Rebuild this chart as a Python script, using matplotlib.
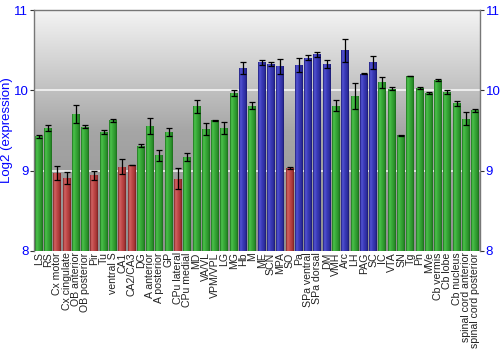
import matplotlib
matplotlib.use('Agg')
import matplotlib.pyplot as plt
import numpy as np
from matplotlib.colors import LinearSegmentedColormap

plt.rcParams['font.family'] = ['Liberation Sans', 'DejaVu Sans']

regions = ['LS', 'RS', 'Cx motor', 'Cx cingulate', 'OB anterior', 'OB posterior', 'Pir', 'Tu',
           'ventral S', 'CA1', 'CA2/CA3', 'DG', 'A anterior', 'A posterior', 'GP', 'CPu lateral',
           'CPu medial', 'MD', 'VA/VL', 'VPM/VPL', 'LG', 'MG', 'Hb', 'M', 'ME', 'SCN', 'MPA', 'SO',
           'Pa', 'SPa ventral', 'SPa dorsal', 'DM', 'VMH', 'Arc', 'LH', 'PAG', 'SC', 'IC', 'VTA',
           'SN', 'Tg', 'Pn', 'MVe', 'Cb vermis', 'Cb lobe', 'Cb nucleus', 'spinal cord anterior',
           'spinal cord posterior']
expr = [9.43, 9.53, 8.97, 8.91, 9.71, 9.55, 8.94, 9.48,
        9.63, 9.05, 9.07, 9.31, 9.56, 9.19, 9.48, 8.90,
        9.17, 9.80, 9.52, 9.63, 9.53, 9.97, 10.28, 9.81, 10.35, 10.33, 10.30, 9.03,
        10.32, 10.41, 10.45, 10.33, 9.81, 10.50, 9.93, 10.21, 10.35, 10.10, 10.02,
        9.44, 10.18, 10.03, 9.97, 10.13, 9.98, 9.84, 9.65,
        9.75]
err = [0.02, 0.035, 0.085, 0.077, 0.11, 0.015, 0.06, 0.027,
       0.02, 0.09, 0.005, 0.02, 0.1, 0.07, 0.05, 0.13,
       0.045, 0.08, 0.08, 0.005, 0.077, 0.04, 0.073, 0.04, 0.033, 0.03, 0.09, 0.01,
       0.088, 0.033, 0.03, 0.045, 0.065, 0.14, 0.16, 0.005, 0.083, 0.07, 0.02,
       0.01, 0.005, 0.017, 0.015, 0.017, 0.03, 0.033, 0.083,
       0.02]
group = ['g', 'g', 'r', 'r', 'g', 'g', 'r', 'g',
         'g', 'r', 'r', 'g', 'g', 'g', 'g', 'r',
         'g', 'g', 'g', 'g', 'g', 'g', 'b', 'g', 'b', 'b', 'b', 'r',
         'b', 'b', 'b', 'b', 'g', 'b', 'g', 'b', 'b', 'g', 'g',
         'g', 'g', 'g', 'g', 'g', 'g', 'g', 'g',
         'g']

# shading across each bar: dark edge, highlight, body, dark edge
shades = {
    'g': ['#1d6e1d', '#4cc44c', '#38a838', '#2a922a', '#1c6a1c'],
    'r': ['#7e2424', '#d26464', '#c04848', '#a83838', '#7a2020'],
    'b': ['#1c1c78', '#5454d4', '#3a3ab8', '#2e2ea0', '#1a1a70'],
}
cmaps = {k: LinearSegmentedColormap.from_list(k, list(zip([0, 0.2, 0.5, 0.8, 1], v)))
         for k, v in shades.items()}

fig = plt.figure(figsize=(5, 3.5), dpi=100)
ax = fig.add_axes([0.068, 0.283, 0.892, 0.688])

x = np.arange(len(regions))
ax.set_xlim(-0.5, len(regions) - 0.5)
ax.set_ylim(8, 11)

# vertical grey gradient behind the plot, light at the top
bg = LinearSegmentedColormap.from_list('bg', ['#f4f4f4', '#a6a6a6', '#8e8e8e'])
ax.imshow(np.linspace(0, 1, 256).reshape(-1, 1), cmap=bg, aspect='auto', origin='upper',
          extent=[-0.5, len(regions) - 0.5, 8, 11], zorder=0)
for yv in [9, 10]:
    ax.axhline(yv, color='white', lw=1.2, alpha=0.85, zorder=1)

bars = ax.bar(x, np.array(expr) - 8, bottom=8, width=0.86, color='none', zorder=2)
grad = np.linspace(0, 1, 64).reshape(1, -1)
for patch, g in zip(bars, group):
    x0, y0 = patch.get_x(), patch.get_y()
    w, h = patch.get_width(), patch.get_height()
    im = ax.imshow(grad, cmap=cmaps[g], aspect='auto',
                   extent=[x0, x0 + w, y0, y0 + h], zorder=2)
    im.set_clip_path(patch)

ax.errorbar(x, expr, yerr=err, fmt='none', ecolor='black', elinewidth=0.9,
            capsize=2, capthick=0.9, zorder=3)

ax.set_xticks(x)
ax.set_xticklabels(regions, rotation=90, fontsize=7.6, color='#222222')
ax.tick_params(axis='x', length=0, pad=1)
ax.set_yticks([8, 9, 10, 11])
ax.tick_params(axis='y', colors='#333333', labelcolor='blue', labelsize=9.5,
               length=3, pad=1, direction='out', right=True, labelright=True)
ax.set_ylabel('Log2 (expression)', color='blue', fontsize=9.5)
ax.yaxis.set_label_coords(-0.047, 0.5)

for side in ['left', 'top', 'right']:
    ax.spines[side].set_color('#777777')
    ax.spines[side].set_linewidth(1.0)
ax.spines['bottom'].set_visible(False)

fig.savefig('out.png', dpi=100)
